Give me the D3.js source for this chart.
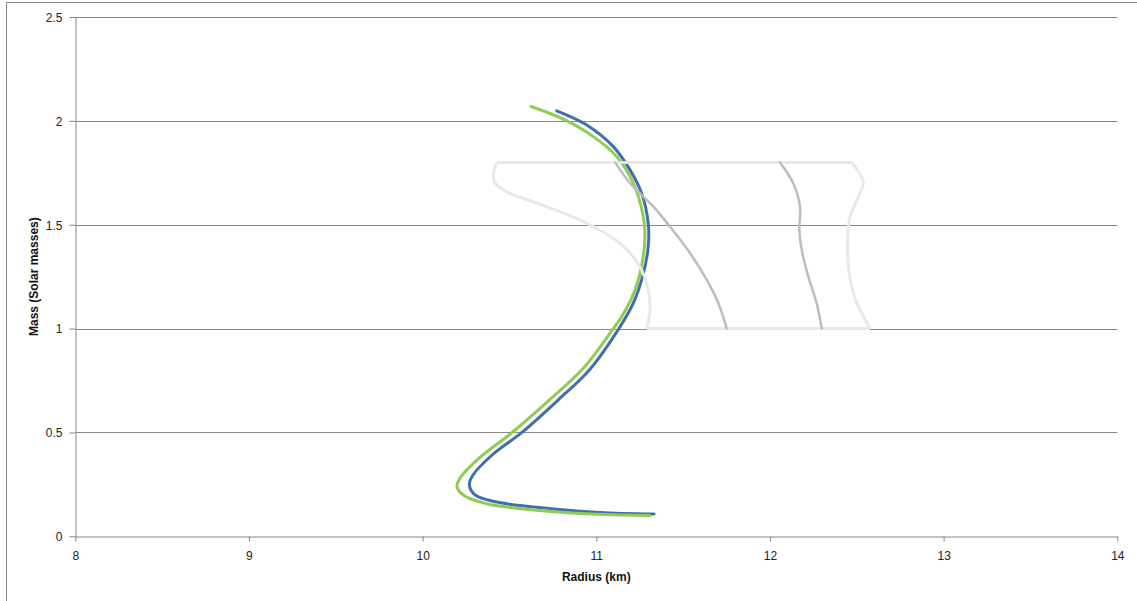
<!DOCTYPE html>
<html>
<head>
<meta charset="utf-8">
<script src="https://cdn.jsdelivr.net/npm/d3@7"></script>
<style>
  html, body { margin: 0; padding: 0; background: #fff; }
  svg { display: block; }
  text { font-family: "Liberation Sans", "DejaVu Sans", sans-serif; }
</style>
</head>
<body>
<svg id="chart" width="1137" height="601"></svg>
<script>
// Mass–radius relations, radius in km, mass in solar masses
const blueCurve = [
  [10.772, 2.048], [10.945, 1.980], [11.098, 1.876], [11.194, 1.764], [11.261, 1.651],
  [11.299, 1.507], [11.299, 1.394], [11.271, 1.266], [11.213, 1.122], [11.130, 1.000],
  [10.960, 0.801], [10.780, 0.656], [10.570, 0.499], [10.405, 0.395], [10.290, 0.295],
  [10.269, 0.250], [10.302, 0.199], [10.426, 0.165], [10.740, 0.133], [11.021, 0.115],
  [11.333, 0.107]
];
const greenCurve = [
  [10.624, 2.069], [10.810, 2.008], [10.983, 1.924], [11.117, 1.828], [11.213, 1.700],
  [11.267, 1.555], [11.280, 1.459], [11.267, 1.330], [11.223, 1.186], [11.146, 1.057],
  [11.098, 1.000], [10.925, 0.809], [10.740, 0.664], [10.510, 0.496], [10.330, 0.380],
  [10.215, 0.280], [10.198, 0.240], [10.234, 0.199], [10.369, 0.157], [10.752, 0.118],
  [11.021, 0.106], [11.309, 0.100]
];
// Constraint band: left and right edges, top to bottom
const bandLeft = [
  [10.426, 1.800], [10.407, 1.740], [10.417, 1.700], [10.484, 1.659], [10.714, 1.587],
  [10.945, 1.507], [11.136, 1.411], [11.251, 1.298], [11.299, 1.186], [11.309, 1.090],
  [11.290, 1.000]
];
const bandRight = [
  [12.471, 1.800], [12.537, 1.707], [12.518, 1.651], [12.461, 1.539], [12.448, 1.442],
  [12.452, 1.298], [12.480, 1.170], [12.528, 1.074], [12.576, 1.000]
];
const grayLeft = [
  [11.108, 1.800], [11.194, 1.700], [11.329, 1.587], [11.424, 1.491], [11.540, 1.363],
  [11.636, 1.234], [11.703, 1.122], [11.751, 1.000]
];
const grayRight = [
  [12.058, 1.800], [12.134, 1.700], [12.173, 1.587], [12.169, 1.475], [12.183, 1.378],
  [12.221, 1.250], [12.269, 1.122], [12.298, 1.000]
];
const xTicks = [8, 9, 10, 11, 12, 13, 14];
const yTicks = [0, 0.5, 1, 1.5, 2, 2.5];

const svg = d3.select("#chart");
const margin = { left: 75.3, right: 19.7, top: 17, bottom: 64.7 };
const W = 1137, H = 601;

const x = d3.scaleLinear().domain([8, 14]).range([margin.left, W - margin.right]);
const y = d3.scaleLinear().domain([0, 2.5]).range([H - margin.bottom, margin.top]);

// chart frame
svg.append("rect")
  .attr("x", 6.5).attr("y", 2.5)
  .attr("width", 1160).attr("height", 620)
  .attr("fill", "none").attr("stroke", "#8c8c8c").attr("stroke-width", 1);

// horizontal gridlines
svg.append("g")
  .selectAll("line")
  .data(yTicks.filter(d => d > 0))
  .join("line")
  .attr("x1", x(8)).attr("x2", x(14))
  .attr("y1", d => Math.round(y(d)) + 0.5).attr("y2", d => Math.round(y(d)) + 0.5)
  .attr("stroke", "#8a8a8a").attr("stroke-width", 1);

// axes
const xAxis = svg.append("g")
  .attr("transform", `translate(0,${Math.round(y(0)) + 0.5})`)
  .call(d3.axisBottom(x).tickValues(xTicks).tickSize(5).tickSizeOuter(0).tickFormat(d3.format("d")));
const yAxis = svg.append("g")
  .attr("transform", `translate(${Math.round(x(8)) + 0.5},0)`)
  .call(d3.axisLeft(y).tickValues(yTicks).tickSize(6).tickSizeOuter(0).tickFormat(d => String(d)));

[xAxis, yAxis].forEach(g => {
  g.select(".domain").attr("stroke", "#868686");
  g.selectAll(".tick line").attr("stroke", "#868686");
  g.selectAll(".tick text")
    .attr("fill", "#222")
    .style("font-size", "12px")
    .style("font-family", "'Liberation Sans', 'DejaVu Sans', sans-serif");
});
xAxis.selectAll(".tick text").attr("dy", "0").attr("y", 23);
yAxis.selectAll(".tick text").attr("x", -13).attr("dy", "0.36em");

// axis titles
svg.append("text")
  .attr("x", (x(8) + x(14)) / 2).attr("y", 581)
  .attr("text-anchor", "middle")
  .style("font-size", "12px").style("font-weight", "bold").attr("fill", "#111")
  .text("Radius (km)");
svg.append("text")
  .attr("transform", `translate(38,${(y(0) + y(2.5)) / 2}) rotate(-90)`)
  .attr("text-anchor", "middle")
  .style("font-size", "12px").style("font-weight", "bold").attr("fill", "#111")
  .text("Mass (Solar masses)");

const smooth = d3.line()
  .x(d => x(d[0])).y(d => y(d[1]))
  .curve(d3.curveCatmullRom.alpha(0.5));
const straight = d3.line().x(d => x(d[0])).y(d => y(d[1]));

const plot = svg.append("g");

// mass-radius curves
plot.append("path").datum(blueCurve)
  .attr("d", smooth).attr("fill", "none")
  .attr("stroke", "#4170a9").attr("stroke-width", 3).attr("stroke-linecap", "round");
plot.append("path").datum(greenCurve)
  .attr("d", smooth).attr("fill", "none")
  .attr("stroke", "#8fcc56").attr("stroke-width", 3).attr("stroke-linecap", "round");

// constraint band outline
const bandColor = "#ebe9df";
plot.append("path").datum(bandLeft)
  .attr("d", smooth).attr("fill", "none")
  .attr("stroke", bandColor).attr("stroke-width", 3);
plot.append("path").datum(bandRight)
  .attr("d", smooth).attr("fill", "none")
  .attr("stroke", bandColor).attr("stroke-width", 3);
plot.append("path").datum([bandLeft[0], bandRight[0]])
  .attr("d", straight).attr("fill", "none")
  .attr("stroke", bandColor).attr("stroke-width", 3);
plot.append("path").datum([bandLeft[bandLeft.length - 1], bandRight[bandRight.length - 1]])
  .attr("d", straight).attr("fill", "none")
  .attr("stroke", bandColor).attr("stroke-width", 3);

// central constraint lines
[grayLeft, grayRight].forEach(pts => {
  plot.append("path").datum(pts)
    .attr("d", smooth).attr("fill", "none")
    .attr("stroke", "#bdbdbd").attr("stroke-width", 2.5).attr("stroke-linecap", "round");
});
</script>
</body>
</html>
